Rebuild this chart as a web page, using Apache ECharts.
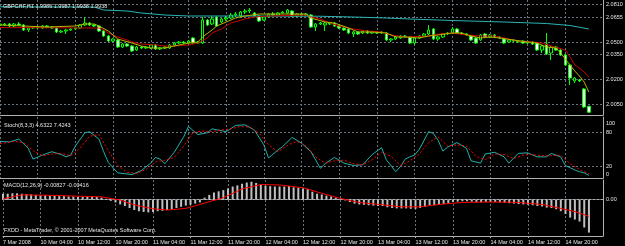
<!DOCTYPE html>
<html><head><meta charset="utf-8">
<script src="https://cdn.jsdelivr.net/npm/echarts@6/dist/echarts.min.js"></script>
<style>html,body{margin:0;padding:0;background:#000;}#c{width:625px;height:246px;}</style>
</head><body><div id="c"></div>
<script>
// ---------- DATA ----------
const titleText = 'GBPCHF,H1 1.9986 1.9987 1.9938 1.9938';
const stochTitle = 'Stoch(8,3,3) 4.6322 7.4243';
const macdTitle = 'MACD(12,26,9) -0.00827 -0.00416';
const footerText = 'FXDD - MetaTrader, \u00a9 2001-2007 MetaQuotes Software Corp.';
const firstLabel = '7 Mar 2008';

const priceLabels = ['2.0810','2.0655','2.0500','2.0350','2.0200','2.0050'];
const bidPrice = 1.9938;
const stochLabels = [100, 80, 20, 0];
const stochLevels = [80, 20];
const macdLabels = ['0.00444','0.00','-0.00888'];

// hourly bars (weekends skipped) starting 7 Mar 2008 20:00
const months = ['Jan','Feb','Mar','Apr','May','Jun','Jul','Aug','Sep','Oct','Nov','Dec'];
const categories = [];
(function(){let t = Date.UTC(2008,2,7,20);
 while (categories.length < 129) { const d = new Date(t); const wd = d.getUTCDay();
  if (wd !== 0 && wd !== 6) categories.push(d.getUTCDate()+' '+months[d.getUTCMonth()]+' '+String(d.getUTCHours()).padStart(2,'0')+':00');
  t += 3600000; }})();

// [open, close, low, high]
const candles = [
[2.0636,2.0644,2.0628,2.0652],[2.0636,2.0644,2.0628,2.0652],[2.0644,2.0628,2.0620,2.0652],[2.0628,2.0644,2.0620,2.0652],
[2.0644,2.0636,2.0628,2.0660],[2.0636,2.0596,2.0588,2.0644],[2.0596,2.0612,2.0580,2.0620],[2.0612,2.0620,2.0604,2.0628],
[2.0620,2.0612,2.0604,2.0628],[2.0612,2.0628,2.0604,2.0636],[2.0628,2.0620,2.0612,2.0636],[2.0620,2.0612,2.0604,2.0628],
[2.0612,2.0580,2.0572,2.0620],[2.0580,2.0588,2.0572,2.0596],[2.0588,2.0596,2.0564,2.0604],[2.0596,2.0604,2.0588,2.0612],
[2.0604,2.0612,2.0596,2.0620],[2.0612,2.0636,2.0604,2.0644],[2.0636,2.0652,2.0628,2.0700],[2.0652,2.0636,2.0628,2.0660],
[2.0636,2.0628,2.0620,2.0644],[2.0628,2.0588,2.0580,2.0636],[2.0588,2.0548,2.0540,2.0596],[2.0548,2.0508,2.0500,2.0556],
[2.0508,2.0524,2.0500,2.0532],[2.0516,2.0460,2.0452,2.0524],[2.0460,2.0484,2.0452,2.0492],[2.0484,2.0468,2.0460,2.0492],
[2.0468,2.0428,2.0420,2.0476],[2.0436,2.0460,2.0428,2.0468],[2.0460,2.0452,2.0444,2.0468],[2.0452,2.0460,2.0444,2.0468],
[2.0452,2.0476,2.0444,2.0484],[2.0476,2.0444,2.0436,2.0484],[2.0444,2.0452,2.0436,2.0460],[2.0452,2.0460,2.0444,2.0468],
[2.0452,2.0476,2.0444,2.0484],[2.0476,2.0492,2.0468,2.0500],[2.0492,2.0500,2.0484,2.0508],[2.0500,2.0492,2.0484,2.0508],
[2.0492,2.0508,2.0484,2.0516],[2.0532,2.0492,2.0484,2.0540],[2.0492,2.0500,2.0484,2.0508],[2.0492,2.0676,2.0484,2.0700],
[2.0676,2.0636,2.0628,2.0684],[2.0644,2.0684,2.0636,2.0708],[2.0700,2.0628,2.0620,2.0708],[2.0660,2.0684,2.0652,2.0692],
[2.0684,2.0692,2.0668,2.0708],[2.0692,2.0716,2.0684,2.0732],[2.0716,2.0724,2.0700,2.0740],[2.0708,2.0740,2.0700,2.0748],
[2.0740,2.0748,2.0724,2.0764],[2.0748,2.0756,2.0732,2.0772],[2.0732,2.0708,2.0700,2.0740],[2.0708,2.0668,2.0660,2.0716],
[2.0676,2.0700,2.0668,2.0708],[2.0700,2.0724,2.0692,2.0732],[2.0724,2.0716,2.0708,2.0740],[2.0716,2.0732,2.0708,2.0740],
[2.0732,2.0740,2.0724,2.0748],[2.0732,2.0756,2.0724,2.0764],[2.0748,2.0708,2.0700,2.0756],[2.0708,2.0724,2.0700,2.0732],
[2.0724,2.0716,2.0708,2.0732],[2.0716,2.0724,2.0708,2.0732],[2.0716,2.0620,2.0612,2.0724],[2.0620,2.0644,2.0588,2.0652],
[2.0644,2.0652,2.0636,2.0660],[2.0636,2.0652,2.0588,2.0660],[2.0652,2.0644,2.0636,2.0660],[2.0652,2.0628,2.0620,2.0660],
[2.0628,2.0612,2.0604,2.0636],[2.0612,2.0596,2.0588,2.0620],[2.0604,2.0572,2.0564,2.0612],[2.0564,2.0580,2.0540,2.0588],
[2.0580,2.0564,2.0556,2.0588],[2.0572,2.0588,2.0564,2.0596],[2.0588,2.0572,2.0564,2.0596],[2.0572,2.0580,2.0564,2.0588],
[2.0580,2.0572,2.0564,2.0588],[2.0572,2.0580,2.0564,2.0588],[2.0572,2.0516,2.0508,2.0580],[2.0516,2.0524,2.0500,2.0532],
[2.0524,2.0540,2.0516,2.0548],[2.0532,2.0548,2.0524,2.0556],[2.0548,2.0540,2.0532,2.0556],[2.0540,2.0492,2.0484,2.0548],
[2.0492,2.0532,2.0476,2.0540],[2.0532,2.0548,2.0524,2.0556],[2.0548,2.0564,2.0540,2.0572],[2.0564,2.0596,2.0556,2.0636],
[2.0604,2.0524,2.0516,2.0612],[2.0524,2.0540,2.0508,2.0548],[2.0540,2.0564,2.0532,2.0572],[2.0564,2.0572,2.0556,2.0580],
[2.0572,2.0604,2.0564,2.0620],[2.0604,2.0572,2.0564,2.0612],[2.0572,2.0564,2.0556,2.0580],[2.0564,2.0556,2.0548,2.0572],
[2.0548,2.0516,2.0508,2.0556],[2.0532,2.0492,2.0484,2.0540],[2.0516,2.0556,2.0508,2.0564],[2.0564,2.0540,2.0532,2.0572],
[2.0540,2.0556,2.0532,2.0564],[2.0556,2.0540,2.0532,2.0564],[2.0540,2.0532,2.0524,2.0548],[2.0524,2.0492,2.0484,2.0532],
[2.0500,2.0516,2.0492,2.0524],[2.0516,2.0508,2.0500,2.0524],[2.0508,2.0500,2.0492,2.0516],[2.0508,2.0492,2.0484,2.0516],
[2.0492,2.0500,2.0484,2.0508],[2.0500,2.0484,2.0476,2.0508],[2.0492,2.0436,2.0428,2.0500],[2.0436,2.0468,2.0412,2.0476],
[2.0484,2.0404,2.0396,2.0572],[2.0412,2.0460,2.0356,2.0468],[2.0460,2.0436,2.0428,2.0468],[2.0436,2.0396,2.0388,2.0444],
[2.0396,2.0316,2.0308,2.0404],[2.0316,2.0212,2.0156,2.0324],[2.0188,2.0212,2.0172,2.0220],[2.0196,2.0188,2.0180,2.0204],
[2.0124,1.9980,1.9972,2.0132],[1.9986,1.9938,1.9938,1.9987]
];

// moving averages [barIndex, value]
const maSlow = [[0,2.0782],[20,2.0780],[22,2.0756],[27,2.0748],[30,2.0732],[35,2.0716],[40,2.0708],[55,2.0708],[68,2.0706],[75,2.0700],[82,2.0692],[87,2.0684],[96,2.0672],[107,2.0660],[116,2.0648],[121,2.0632],[125,2.0604]];
const maMid = [[0,2.0616],[21,2.0612],[22,2.0596],[23,2.0572],[25,2.0540],[27,2.0516],[28,2.0500],[30,2.0484],[33,2.0476],[35,2.0468],[37,2.0468],[40,2.0476],[42,2.0492],[44,2.0532],[45,2.0572],[47,2.0604],[48,2.0628],[49,2.0652],[52,2.0684],[54,2.0700],[57,2.0708],[65,2.0716],[66,2.0700],[68,2.0684],[70,2.0652],[72,2.0628],[75,2.0604],[78,2.0588],[81,2.0580],[83,2.0556],[86,2.0540],[91,2.0548],[93,2.0564],[96,2.0572],[99,2.0556],[102,2.0548],[105,2.0548],[108,2.0524],[110,2.0508],[113,2.0500],[115,2.0492],[117,2.0468],[120,2.0436],[121,2.0380],[122,2.0316],[123,2.0292],[124,2.0260],[125,2.0220]];
const maFast = [[0,2.0636],[5,2.0628],[10,2.0620],[16,2.0628],[18,2.0644],[20,2.0644],[21,2.0628],[23,2.0588],[24,2.0556],[25,2.0524],[28,2.0492],[30,2.0468],[32,2.0452],[35,2.0452],[38,2.0476],[40,2.0492],[42,2.0500],[43,2.0540],[45,2.0596],[46,2.0628],[48,2.0660],[50,2.0692],[52,2.0708],[55,2.0724],[65,2.0724],[66,2.0692],[69,2.0660],[71,2.0652],[74,2.0612],[76,2.0580],[79,2.0580],[82,2.0572],[84,2.0540],[86,2.0540],[89,2.0532],[91,2.0548],[93,2.0556],[96,2.0572],[98,2.0572],[100,2.0548],[102,2.0532],[104,2.0540],[106,2.0532],[109,2.0516],[112,2.0500],[114,2.0492],[116,2.0460],[118,2.0452],[119,2.0412],[121,2.0316],[122,2.0268],[123,2.0228],[124,2.0180],[125,2.0100]];

const stochMain = [[0,64],[2,63],[4,68],[6,52],[7,33],[9,40],[11,46],[13,41],[14,37],[15,40],[16,56],[18,79],[19,81],[21,68],[22,46],[23,27],[25,9],[28,6],[30,13],[32,26],[33,36],[34,33],[35,25],[37,45],[39,72],[40,90],[42,76],[44,79],[45,86],[48,81],[50,92],[52,93],[54,84],[56,58],[57,35],[59,49],[60,55],[62,71],[64,61],[66,46],[68,17],[69,25],[71,36],[73,26],[75,22],[77,23],[79,41],[81,53],[82,32],[84,11],[85,20],[86,33],[87,37],[88,40],[89,50],[91,81],[92,78],[93,66],[94,47],[95,54],[97,62],[99,52],[100,30],[102,26],[103,42],[105,45],[107,37],[108,26],[110,43],[112,44],[114,37],[116,37],[117,43],[119,37],[120,22],[122,14],[123,11],[124,9],[125,4.6322]];
const stochSignal = [[0,60],[3,64],[5,62],[7,48],[9,39],[11,42],[13,43],[15,39],[17,52],[19,73],[21,76],[23,48],[25,22],[27,10],[29,8],[31,15],[33,28],[35,31],[37,36],[39,56],[41,80],[43,82],[45,81],[47,84],[49,86],[51,90],[53,89],[55,78],[57,58],[59,46],[61,57],[63,64],[65,56],[67,37],[69,26],[71,30],[73,31],[75,25],[77,23],[79,32],[81,45],[83,38],[85,22],[87,30],[89,42],[91,62],[93,72],[95,56],[97,58],[99,56],[101,38],[103,32],[105,42],[107,41],[109,34],[111,40],[113,41],[115,39],[117,39],[119,40],[121,25],[123,15],[125,7.4243]];

const macdHist = [0.0015,0.0015,0.0016,0.0016,0.0015,0.0014,0.0013,0.0012,0.0011,0.0011,0.0010,0.0010,0.0009,0.0009,0.0008,
0.0008,0.0007,0.0007,0.0008,0.0008,0.0007,0.0005,0.0002,-0.0003,-0.0007,-0.0012,-0.0016,-0.0021,-0.0026,-0.0029,
-0.0031,-0.0032,-0.0031,-0.0029,-0.0028,-0.0026,-0.0024,-0.0021,-0.0018,-0.0015,-0.0013,-0.0010,-0.0007,0.0005,0.0012,
0.0018,0.0021,0.0024,0.0028,0.0033,0.0036,0.0040,0.0043,0.0045,0.0042,0.0038,0.0035,0.0034,0.0033,0.0033,
0.0033,0.0034,0.0031,0.0030,0.0028,0.0027,0.0020,0.0015,0.0013,0.0010,0.0008,0.0005,0.0002,-0.0002,-0.0006,
-0.0010,-0.0012,-0.0013,-0.0014,-0.0015,-0.0016,-0.0016,-0.0019,-0.0021,-0.0022,-0.0022,-0.0022,-0.0023,-0.0023,-0.0021,
-0.0018,-0.0014,-0.0014,-0.0013,-0.0011,-0.0009,-0.0006,-0.0005,-0.0004,-0.0004,-0.0005,-0.0007,-0.0007,-0.0006,-0.0006,
-0.0006,-0.0007,-0.0008,-0.0009,-0.0010,-0.0011,-0.0012,-0.0013,-0.0014,-0.0016,-0.0017,-0.0020,-0.0021,-0.0024,-0.0029,
-0.0036,-0.0045,-0.0050,-0.0055,-0.0070,-0.00827];
const macdSignal = [[0,0.0002],[4,0.0012],[10,0.0011],[21,0.0007],[25,-0.0001],[28,-0.0013],[32,-0.0023],[35,-0.0026],[39,-0.0022],[42,-0.0012],[47,0.0005],[51,0.0027],[55,0.0038],[59,0.0037],[64,0.0030],[68,0.0016],[72,0.0003],[76,-0.0007],[81,-0.0013],[85,-0.0018],[89,-0.0018],[93,-0.0012],[98,-0.0007],[102,-0.0006],[106,-0.0006],[110,-0.0007],[115,-0.0012],[119,-0.0022],[122,-0.0030],[125,-0.00416]];

// ---------- CHART ----------
const FONT = 'Liberation Sans';
const FS = 5.5;
const TXT = '#e6e6e6';
const GRIDC = '#687480';
const AXC = '#b0b0b0';
const dash = {type:[2,2], color:GRIDC, width:1};
const isLabelBar = (i, v) => i < 126 && /(04|12|20):00$/.test(v);

function xAx(grid, pos, opts) {
  return Object.assign({type:'category', data:categories, boundaryGap:false, gridIndex:grid, position:pos,
    axisLine:{show:true, lineStyle:{color:AXC, width:1}}, axisTick:{show:false}, axisLabel:{show:false},
    splitLine:{show:false}}, opts||{});
}
const vsplit = {show:true, interval:isLabelBar, lineStyle:dash};

const option = {
  backgroundColor:'#000', animation:false,
  textStyle:{fontFamily:FONT},
  title:[
    {text:titleText, left:3, top:3, padding:0, textStyle:{color:TXT, fontSize:FS, fontWeight:'normal', fontFamily:FONT}},
    {text:stochTitle, left:4, top:122, padding:0, textStyle:{color:TXT, fontSize:FS, fontWeight:'normal', fontFamily:FONT}},
    {text:macdTitle, left:4, top:182, padding:0, textStyle:{color:TXT, fontSize:FS, fontWeight:'normal', fontFamily:FONT}},
    {text:footerText, left:4, top:227, padding:0, textStyle:{color:TXT, fontSize:FS, fontWeight:'normal', fontFamily:FONT}}
  ],
  grid:[
    {left:0, right:22, top:0, height:115},
    {left:0, right:22, top:117, height:61},
    {left:0, right:22, top:180, height:56}
  ],
  xAxis:[
    xAx(0,'bottom',{splitLine:vsplit}),
    xAx(1,'top'),
    xAx(1,'bottom',{splitLine:vsplit}),
    xAx(2,'top'),
    xAx(2,'bottom',{splitLine:vsplit,
      axisTick:{show:true, interval:isLabelBar, length:2, lineStyle:{color:AXC}},
      axisLabel:{show:true, interval:isLabelBar, align:'left', margin:3, color:TXT, fontSize:FS, fontFamily:FONT,
        formatter:(v, i) => i === 0 ? firstLabel : v}})
  ],
  yAxis:[
    {type:'value', gridIndex:0, position:'right', min:1.9916, max:2.0836, axisLine:{show:true, lineStyle:{color:AXC}},
     axisTick:{show:false}, axisLabel:{show:false}, splitLine:{show:false}},
    {type:'value', gridIndex:1, position:'right', min:0, max:106.7, interval:20, axisLine:{show:true, lineStyle:{color:AXC}},
     axisTick:{show:false}, splitLine:{show:false},
     axisLabel:{show:true, margin:3, color:TXT, fontSize:FS, fontFamily:FONT,
       formatter:(v) => { if (!stochLabels.includes(v)) return '';
         if (v === 100) return '{t|' + v + '}'; if (v === 0) return '{b|' + v + '}'; return String(v); },
       rich:{t:{padding:[6,0,0,0], color:TXT, fontSize:FS, fontFamily:FONT}, b:{padding:[0,0,8,0], color:TXT, fontSize:FS, fontFamily:FONT}}}},
    {type:'value', gridIndex:2, position:'right', min:-0.00913, max:0.00494, axisLine:{show:true, lineStyle:{color:AXC}},
     axisTick:{show:false}, axisLabel:{show:false}, splitLine:{show:false}}
  ],
  series:[
    {type:'candlestick', xAxisIndex:0, yAxisIndex:0, data:candles, barWidth:3, z:2,
     itemStyle:{color:'#000000', color0:'#ffffff', borderColor:'#00ff00', borderColor0:'#00ff00', borderWidth:1},
     markLine:{silent:true, symbol:['none','none'], z:1, animation:false,
       data: priceLabels.map(s => ({yAxis:parseFloat(s), lineStyle:dash,
         label:{show:true, position:'end', distance:3, formatter:s, color:TXT, fontSize:FS, fontFamily:FONT}}))
         .concat([{yAxis:bidPrice, lineStyle:{type:'solid', color:'#8a8a8a', width:1},
         label:{show:true, position:'end', distance:1, formatter:bidPrice.toFixed(4), color:'#000', backgroundColor:'#e8e8e8', padding:[1,2,0,2], fontSize:FS, fontFamily:FONT}}])}},
    {type:'line', xAxisIndex:0, yAxisIndex:0, data:maSlow, showSymbol:false, z:3, lineStyle:{color:'#2ab4b4', width:1}},
    {type:'line', xAxisIndex:0, yAxisIndex:0, data:maMid, showSymbol:false, z:3, lineStyle:{color:'#c80000', width:1}},
    {type:'line', xAxisIndex:0, yAxisIndex:0, data:maFast, showSymbol:false, z:3, lineStyle:{color:'#b4b400', width:1}},
    {type:'line', xAxisIndex:2, yAxisIndex:1, data:stochMain, showSymbol:false, z:3, lineStyle:{color:'#20b2aa', width:1},
     markLine:{silent:true, symbol:['none','none'], z:1, label:{show:false},
       data: stochLevels.map(v => ({yAxis:v, lineStyle:dash}))}},
    {type:'line', xAxisIndex:2, yAxisIndex:1, data:stochSignal, showSymbol:false, z:3, lineStyle:{color:'#ff0000', width:1, type:[2,2]}},
    {type:'bar', xAxisIndex:4, yAxisIndex:2, data:macdHist, barWidth:2, z:2, itemStyle:{color:'#c0c0c0'},
     markLine:{silent:true, symbol:['none','none'], z:1,
       data:[
         {yAxis:parseFloat(macdLabels[0]), lineStyle:{opacity:0}, label:{show:true, position:'end', distance:3, formatter:macdLabels[0], color:TXT, fontSize:FS, fontFamily:FONT}},
         {yAxis:parseFloat(macdLabels[1]), lineStyle:dash, label:{show:true, position:'end', distance:3, formatter:macdLabels[1], color:TXT, fontSize:FS, fontFamily:FONT}},
         {yAxis:parseFloat(macdLabels[2]), lineStyle:{opacity:0}, label:{show:true, position:'end', distance:3, formatter:macdLabels[2], color:TXT, fontSize:FS, fontFamily:FONT}}
       ]}},
    {type:'line', xAxisIndex:4, yAxisIndex:2, data:macdSignal, showSymbol:false, z:3, lineStyle:{color:'#ff0000', width:1}}
  ]
};
const chart = echarts.init(document.getElementById('c'), null, {renderer:'canvas'});
chart.setOption(option);
</script></body></html>
